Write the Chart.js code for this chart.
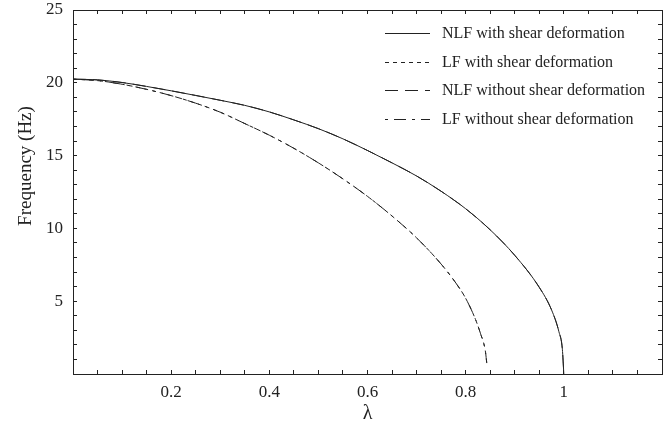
<!DOCTYPE html>
<html>
<head>
<meta charset="utf-8">
<script src="https://cdn.jsdelivr.net/npm/chart.js@4/dist/chart.umd.min.js"></script>
<style>
html,body{margin:0;padding:0;background:#fff;}
#wrap{width:669px;height:424px;position:relative;}
</style>
</head>
<body>
<div id="wrap"><canvas id="c" width="669" height="424"></canvas></div>
<script>
// ---- data ----
const seriesLabels = [
  "NLF with shear deformation",
  "LF with shear deformation",
  "NLF without shear deformation",
  "LF without shear deformation"
];
const lambdaNLF = [0, 0.05, 0.1, 0.15, 0.2, 0.25, 0.3, 0.35, 0.4, 0.45, 0.5, 0.55, 0.6, 0.65, 0.7, 0.75, 0.8, 0.85, 0.9, 0.95, 0.975, 0.99, 0.997, 1.0];
const freqNLFShear   = [20.25, 20.2, 20.02, 19.75, 19.45, 19.13, 18.8, 18.45, 18.0, 17.45, 16.85, 16.15, 15.35, 14.5, 13.6, 12.55, 11.35, 9.9, 8.15, 5.95, 4.4, 2.9, 1.7, 0];
const freqNLFNoShear = [20.25, 20.2, 20.02, 19.75, 19.45, 19.13, 18.8, 18.45, 18.0, 17.45, 16.85, 16.15, 15.35, 14.5, 13.6, 12.55, 11.35, 9.9, 8.15, 5.95, 4.4, 2.9, 1.7, 0];
const lambdaLF = [0, 0.05, 0.1, 0.15, 0.2, 0.25, 0.3, 0.35, 0.4, 0.45, 0.5, 0.55, 0.6, 0.65, 0.7, 0.75, 0.78, 0.8, 0.82, 0.83, 0.84, 0.843];
const freqLFShear   = [20.25, 20.15, 19.9, 19.55, 19.12, 18.6, 17.98, 17.2, 16.4, 15.5, 14.5, 13.4, 12.2, 10.85, 9.35, 7.55, 6.25, 5.2, 3.75, 2.8, 1.6, 0.75];
const freqLFNoShear = [20.25, 20.15, 19.9, 19.55, 19.12, 18.6, 17.98, 17.2, 16.4, 15.5, 14.5, 13.4, 12.2, 10.85, 9.35, 7.55, 6.25, 5.2, 3.75, 2.8, 1.6, 0.75];
const xTickLabels = [0.2, 0.4, 0.6, 0.8, 1];
const yTickLabels = [5, 10, 15, 20, 25];
const xTitle = "λ";
const yTitle = "Frequency (Hz)";

// ---- styles ----
const INK = "#222";
const SERIF = "'Liberation Serif', 'Times New Roman', serif";
const pts = (xs, ys) => xs.map((x, i) => ({x: x, y: ys[i]}));
const dashes = [[], [4, 4], [13, 7], [3, 6, 12, 6]];

const datasets = [
  {label: seriesLabels[0], data: pts(lambdaNLF, freqNLFShear), borderDash: dashes[0]},
  {label: seriesLabels[1], data: pts(lambdaLF, freqLFShear), borderDash: dashes[1]},
  {label: seriesLabels[2], data: pts(lambdaNLF, freqNLFNoShear), borderDash: dashes[2]},
  {label: seriesLabels[3], data: pts(lambdaLF, freqLFNoShear), borderDash: dashes[3]}
].map(d => Object.assign(d, {
  borderColor: INK, borderWidth: 1, pointRadius: 0, fill: false,
  cubicInterpolationMode: 'monotone'
}));

const near = (v, arr) => arr.some(a => Math.abs(a - v) < 1e-6);

// inward tick marks drawn by the scales themselves
const tickGrid = {display: true, drawOnChartArea: false, drawTicks: true, tickLength: -4, color: INK, lineWidth: 1};
const frameBorder = {display: true, color: INK, width: 1};
const noPad = s => { s.paddingTop = 0; s.paddingBottom = 0; s.paddingLeft = 0; s.paddingRight = 0; };

const overlayPlugin = {
  id: 'overlay',
  afterDraw(chart) {
    const ctx = chart.ctx;
    ctx.save();
    // y axis title
    ctx.save();
    ctx.translate(26, 166);
    ctx.rotate(-Math.PI / 2);
    ctx.font = "19px " + SERIF;
    ctx.fillStyle = INK;
    ctx.textAlign = 'center';
    ctx.textBaseline = 'middle';
    ctx.fillText(yTitle, 0, 0);
    ctx.restore();

    // legend inside the plot, top right
    ctx.font = "16px " + SERIF;
    ctx.fillStyle = INK;
    ctx.textBaseline = 'middle';
    ctx.textAlign = 'left';
    chart.data.datasets.forEach((d, i) => {
      const y = Math.round(33 + i * 28.6) + 0.5;
      ctx.beginPath();
      ctx.strokeStyle = INK;
      ctx.lineWidth = 1;
      ctx.setLineDash(d.borderDash || []);
      ctx.moveTo(385, y); ctx.lineTo(430, y);
      ctx.stroke();
      ctx.setLineDash([]);
      ctx.fillText(d.label, 442, y);
    });
    ctx.restore();
  }
};

new Chart(document.getElementById('c'), {
  type: 'line',
  data: {datasets: datasets},
  plugins: [overlayPlugin],
  options: {
    responsive: false,
    animation: false,
    layout: {padding: {top: 10, right: 7, left: 0, bottom: 0}},
    plugins: {legend: {display: false}, tooltip: {enabled: false}},
    scales: {
      x: {
        type: 'linear', position: 'bottom', min: 0, max: 1.2,
        afterFit(s) { s.height = 50; noPad(s); },
        grid: tickGrid,
        border: frameBorder,
        ticks: {
          stepSize: 0.05, autoSkip: false, maxRotation: 0, padding: 12,
          color: INK, font: {family: SERIF, size: 17},
          callback(v) {
            const r = Math.round(v * 100) / 100;
            return near(r, xTickLabels) ? String(r) : '';
          }
        },
        title: {display: true, text: xTitle, color: INK, font: {family: SERIF, size: 20, lineHeight: 1}, padding: {top: 0, bottom: 0}}
      },
      xTop: {
        type: 'linear', position: 'top', min: 0, max: 1.2,
        afterFit(s) { s.height = 0; noPad(s); },
        grid: tickGrid,
        border: frameBorder,
        ticks: {display: false, stepSize: 0.05, autoSkip: false, maxRotation: 0, padding: 0}
      },
      y: {
        type: 'linear', position: 'left', min: 0, max: 25,
        afterFit(s) { s.width = 73; noPad(s); },
        grid: tickGrid,
        border: frameBorder,
        ticks: {
          stepSize: 1, autoSkip: false, padding: 14,
          color: INK, font: {family: SERIF, size: 17},
          callback(v) {
            const r = Math.round(v);
            return near(r, yTickLabels) ? String(r) : '';
          }
        },
        title: {display: false}
      },
      yRight: {
        type: 'linear', position: 'right', min: 0, max: 25,
        afterFit(s) { s.width = 0; noPad(s); },
        grid: tickGrid,
        border: frameBorder,
        ticks: {display: false, stepSize: 1, autoSkip: false, padding: 0}
      }
    }
  }
});
</script>
</body>
</html>
